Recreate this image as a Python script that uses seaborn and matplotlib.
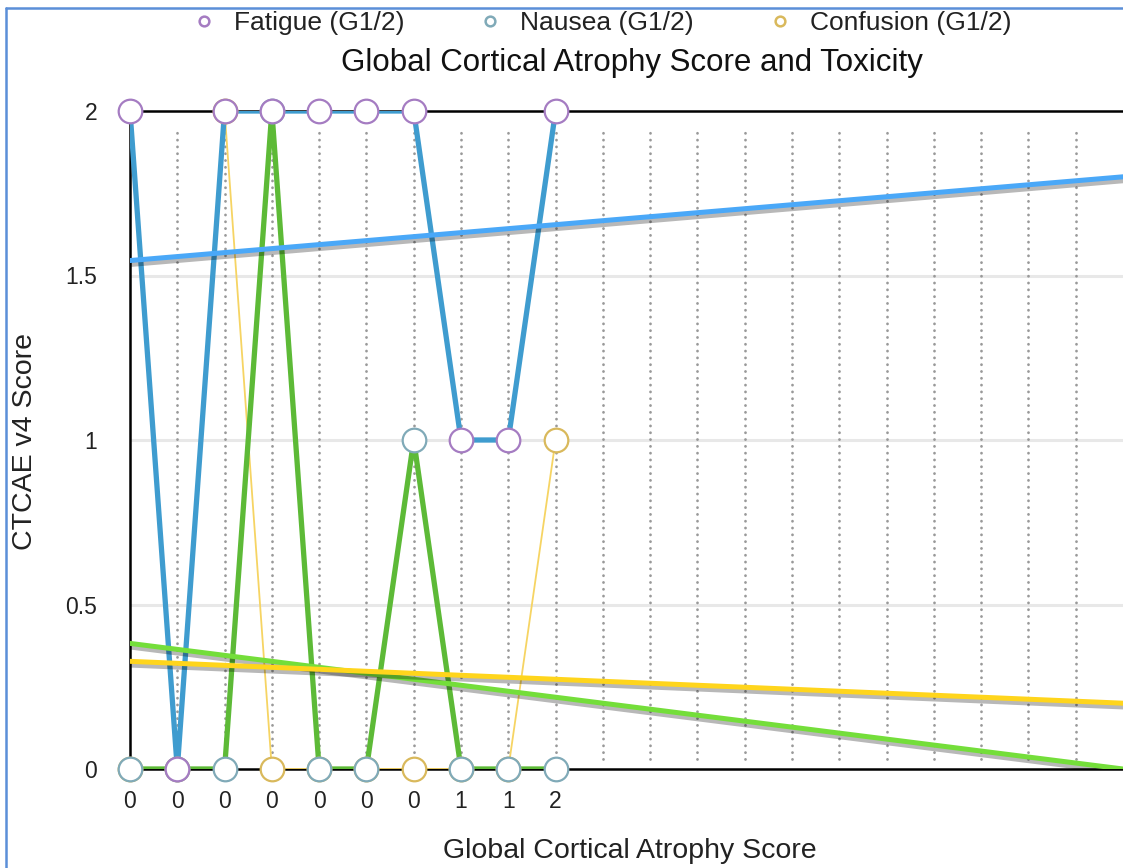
import numpy as np
import pandas as pd
import matplotlib
matplotlib.use("Agg")
import matplotlib.pyplot as plt
import matplotlib.patheffects as pe
from matplotlib.lines import Line2D
import seaborn as sns

# ---- data ----
gca_labels = ["0", "0", "0", "0", "0", "0", "0", "1", "1", "2"]
fatigue = [2, 0, 2, 2, 2, 2, 2, 1, 1, 2]
nausea = [0, 0, 0, 2, 0, 0, 1, 0, 0, 0]
confusion = [0, 0, 2, 0, 0, 0, 0, 0, 0, 1]
series_names = ["Fatigue (G1/2)", "Nausea (G1/2)", "Confusion (G1/2)"]
y_ticks = [0, 0.5, 1, 1.5, 2]
y_tick_labels = ["0", "0.5", "1", "1.5", "2"]
n_slots = 21

sns.set_style("white")
plt.rcParams["font.family"] = ["Liberation Sans", "DejaVu Sans"]

W, H = 1123, 868
fig = plt.figure(figsize=(W / 100, H / 100), dpi=100)
ax = fig.add_axes([130 / W, (H - 769) / H, (W - 130) / W, (769 - 111) / H])

pos = np.arange(len(gca_labels))
df = pd.DataFrame({"pos": pos, "Fatigue": fatigue, "Nausea": nausea, "Confusion": confusion})

ax.set_xlim(0, n_slots)
ax.set_ylim(0, 2)

# grid
for gx in range(1, n_slots):
    ax.axvline(gx, ymin=0.015, ymax=0.975, color="#999999", lw=2.0, ls=(0, (0.05, 2.4)),
               dash_capstyle="round", zorder=0.5)
for gy in [0.5, 1, 1.5]:
    ax.axhline(gy, color="#e8e8e8", lw=2.2, zorder=0.4)

# series lines (order: confusion, nausea, fatigue on top)
specs = [
    ("Confusion", "#f6d463", 1.3, "#d9b95c"),
    ("Nausea", "#5dba37", 3.8, "#80aab8"),
    ("Fatigue", "#3f9ccf", 3.8, "#a57cc2"),
]
for i, (col, lc, lw, mec) in enumerate(specs):
    sns.lineplot(data=df, x="pos", y=col, ax=ax, color=lc, linewidth=lw, sort=False,
                 estimator=None, legend=False, zorder=3 + i)

# trend lines (regression extended over the full axis)
trend_specs = [("Fatigue", "#4aa8f8"), ("Nausea", "#74de3a"), ("Confusion", "#ffd51c")]
for col, c in trend_specs:
    sns.regplot(data=df, x="pos", y=col, ax=ax, scatter=False, ci=None, truncate=False,
                line_kws=dict(color=c, lw=3.6, zorder=7,
                              path_effects=[pe.SimpleLineShadow(offset=(1.2, -1.8), shadow_color="black",
                                                                alpha=0.28, linewidth=5.5),
                                            pe.Normal()]))

# markers
ms = 17
for i, (col, lc, lw, mec) in enumerate(specs):
    sns.scatterplot(data=df, x="pos", y=col, ax=ax, s=ms ** 2, facecolor="white",
                    edgecolor=mec, linewidth=1.6, zorder=10 + i, clip_on=False, legend=False)

ax.set_xlim(0, n_slots)
ax.set_ylim(0, 2)

# axes styling
for side in ["left", "bottom", "top"]:
    ax.spines[side].set_color("black")
    ax.spines[side].set_linewidth(1.8)
ax.spines["right"].set_visible(False)
ax.spines["left"].set_zorder(2)

ax.set_xticks(range(0, n_slots))
ax.set_xticklabels(gca_labels + [""] * (n_slots - len(gca_labels)))
ax.set_yticks(y_ticks)
ax.set_yticklabels(y_tick_labels)
ax.tick_params(axis="x", direction="out", length=6, width=1.8, color="black",
               labelsize=16.5, pad=9, labelcolor="#222222")
ax.tick_params(axis="y", direction="out", length=6.5, width=1.8, color="black",
               labelsize=16.5, pad=17, labelcolor="#222222")
ax.set_xlabel("")
ax.set_ylabel("")

fig.text(630 / W, 1 - 851 / H, "Global Cortical Atrophy Score", ha="center", va="center",
         fontsize=20.5, color="#222222")
fig.text(25 / W, 1 - 441 / H, "CTCAE v4 Score", ha="center", va="center", rotation=90,
         fontsize=20.5, color="#222222")
fig.text(632 / W, 1 - 63 / H, "Global Cortical Atrophy Score and Toxicity", ha="center",
         va="center", fontsize=22.5, color="#111111")

# legend
handles = [
    Line2D([], [], ls="none", marker="o", ms=7, mfc="white", mec="#a57cc2", mew=1.8),
    Line2D([], [], ls="none", marker="o", ms=7, mfc="white", mec="#80aab8", mew=1.8),
    Line2D([], [], ls="none", marker="o", ms=7, mfc="white", mec="#d9b95c", mew=1.8),
]
fig.legend(handles, series_names, loc="center", bbox_to_anchor=(601 / W, 1 - 23 / H), ncol=3,
           frameon=False, fontsize=19, handlelength=1.0, handletextpad=0.64, columnspacing=2.76,
           labelcolor="#222222", borderpad=0, borderaxespad=0)

# outer blue frame
fig.add_artist(Line2D([6 / W, 6 / W], [0, 1 - 8 / H], transform=fig.transFigure, color="#5b8fd8", lw=1.8))
fig.add_artist(Line2D([6 / W, 1], [1 - 8 / H, 1 - 8 / H], transform=fig.transFigure, color="#5b8fd8", lw=1.8))

fig.savefig("out.png", dpi=100)
